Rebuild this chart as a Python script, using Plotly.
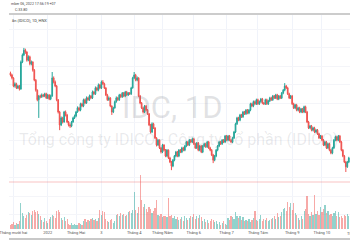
import plotly.graph_objects as go

# ---- data (IDC, 1D, HNX) ----
opens = [63.2,62.7,61.9,59.7,60.3,59.2,59.7,58.9,66.2,68.1,
 69.4,68.9,66.7,67.6,65.7,66.2,64.0,61.3,58.6,56.0,
 57.0,56.8,57.3,57.0,57.6,56.5,57.3,56.2,57.0,61.9,
 60.8,59.7,56.0,52.7,49.2,51.1,50.0,52.7,51.9,50.0,
 49.2,48.9,50.0,51.1,51.6,52.7,53.8,53.2,54.9,54.3,
 56.0,55.1,56.5,56.0,57.0,56.5,58.1,57.6,59.2,58.6,
 60.0,59.2,60.8,60.3,59.2,57.3,56.0,56.5,54.3,52.7,
 53.8,55.5,56.5,56.0,57.3,56.8,57.8,57.0,58.1,57.3,
 57.8,57.6,59.2,61.9,62.7,61.3,61.9,57.0,55.1,53.8,
 52.7,54.3,53.2,52.2,49.2,47.3,49.5,48.4,45.7,43.8,
 45.1,43.0,41.9,43.8,42.4,40.8,42.4,40.3,39.2,38.1,
 39.7,40.8,41.9,40.8,42.4,41.9,43.0,42.4,43.5,44.6,
 43.8,45.1,44.6,45.4,44.1,43.0,44.3,42.4,43.5,41.9,
 43.5,44.1,43.3,44.6,43.0,42.4,41.1,39.7,40.8,42.4,
 43.5,44.6,44.1,45.1,44.6,46.2,45.1,46.2,45.1,44.6,
 45.7,47.3,49.5,51.1,50.5,51.9,51.4,52.7,52.2,53.2,
 52.4,53.2,54.9,54.3,55.5,54.9,56.0,54.9,55.5,56.2,
 55.1,54.9,56.0,54.9,55.7,56.5,56.0,57.0,56.5,57.3,
 56.2,57.0,56.5,57.8,58.6,59.7,59.2,57.6,56.5,57.0,
 54.9,53.8,54.6,53.2,53.8,52.7,53.5,52.7,54.1,52.7,
 50.0,48.4,48.9,47.8,48.4,47.3,47.8,46.8,45.7,46.2,
 45.1,43.8,44.6,43.0,44.1,42.4,41.6,43.0,45.1,46.0,
 45.1,46.2,44.6,42.4,40.8,39.2,37.9,39.2]

closes = [62.7,61.9,59.7,60.3,59.2,59.7,58.9,66.2,68.1,69.4,
 68.9,66.7,67.6,65.7,66.2,64.0,61.3,58.6,56.0,57.0,
 56.8,57.3,57.0,57.6,56.5,57.3,56.2,57.0,61.9,60.8,
 59.7,56.0,52.7,49.2,51.1,50.0,52.7,51.9,50.0,49.2,
 48.9,50.0,51.1,51.6,52.7,53.8,53.2,54.9,54.3,56.0,
 55.1,56.5,56.0,57.0,56.5,58.1,57.6,59.2,58.6,60.0,
 59.2,60.8,60.3,59.2,57.3,56.0,56.5,54.3,52.7,53.8,
 55.5,56.5,56.0,57.3,56.8,57.8,57.0,58.1,57.3,57.8,
 57.6,59.2,61.9,62.7,61.3,61.9,57.0,55.1,53.8,52.7,
 54.3,53.2,52.2,49.2,47.3,49.5,48.4,45.7,43.8,45.1,
 43.0,41.9,43.8,42.4,40.8,42.4,40.3,39.2,38.1,39.7,
 40.8,41.9,40.8,42.4,41.9,43.0,42.4,43.5,44.6,43.8,
 45.1,44.6,45.4,44.1,43.0,44.3,42.4,43.5,41.9,43.5,
 44.1,43.3,44.6,43.0,42.4,41.1,39.7,40.8,42.4,43.5,
 44.6,44.1,45.1,44.6,46.2,45.1,46.2,45.1,44.6,45.7,
 47.3,49.5,51.1,50.5,51.9,51.4,52.7,52.2,53.2,52.4,
 53.2,54.9,54.3,55.5,54.9,56.0,54.9,55.5,56.2,55.1,
 54.9,56.0,54.9,55.7,56.5,56.0,57.0,56.5,57.3,56.2,
 57.0,56.5,57.8,58.6,59.7,59.2,57.6,56.5,57.0,54.9,
 53.8,54.6,53.2,53.8,52.7,53.5,52.7,54.1,52.7,50.0,
 48.4,48.9,47.8,48.4,47.3,47.8,46.8,45.7,46.2,45.1,
 43.8,44.6,43.0,44.1,42.4,41.6,43.0,45.1,46.0,45.1,
 46.2,44.6,42.4,40.8,39.2,37.9,39.2,40.3]

highs = [63.6,63.0,62.1,60.7,60.6,60.0,60.0,66.6,68.5,70.0,
 69.8,69.1,68.0,67.9,66.6,66.4,64.3,61.6,58.8,57.3,
 57.4,57.7,57.6,57.9,57.9,57.6,57.5,57.4,63.5,62.3,
 61.2,60.0,56.2,53.0,51.5,51.4,53.0,53.1,52.2,50.3,
 49.6,50.3,51.4,52.0,53.0,54.2,54.1,55.2,55.2,56.3,
 56.3,56.9,56.8,57.4,57.3,58.5,58.4,59.6,59.5,60.4,
 60.3,61.2,61.3,60.6,59.4,57.6,56.9,56.7,54.5,54.1,
 55.8,56.9,56.8,57.6,57.6,58.1,58.1,58.4,58.4,58.1,
 58.1,59.5,62.2,63.5,63.0,62.3,62.1,57.3,55.4,54.1,
 54.6,54.6,53.5,52.4,49.5,49.9,49.8,48.6,45.9,45.4,
 45.3,43.3,44.1,44.0,42.7,42.7,42.6,40.6,39.5,40.0,
 41.1,42.2,42.2,42.7,42.7,43.3,43.3,43.8,44.9,44.9,
 45.4,45.4,45.8,45.7,44.4,44.6,44.6,43.8,43.8,43.8,
 44.4,44.4,44.9,44.9,43.3,42.7,41.4,41.1,42.7,43.8,
 44.9,44.9,45.4,45.4,46.5,46.5,46.5,46.5,45.4,46.0,
 47.6,49.8,51.4,51.4,52.2,52.2,53.0,53.0,53.5,53.5,
 53.5,55.2,55.2,55.8,55.8,56.3,56.3,55.8,56.5,56.5,
 55.4,56.3,56.3,56.0,56.8,56.8,57.3,57.3,57.6,57.6,
 57.3,57.3,58.1,58.9,60.5,60.0,59.5,57.9,57.3,57.3,
 55.2,54.9,54.9,54.1,54.1,53.8,53.8,54.4,54.4,53.0,
 50.3,49.2,49.2,48.7,48.7,48.1,48.1,47.1,46.5,46.5,
 45.4,44.9,44.9,44.4,44.4,42.7,43.3,45.4,46.3,46.3,
 46.5,46.5,44.9,42.7,41.1,39.5,39.5,40.6]

lows = [62.3,61.5,59.4,59.3,58.9,58.9,58.5,58.7,65.9,67.8,
 68.4,66.3,66.4,65.3,65.3,63.6,61.0,58.2,55.6,51.1,
 56.4,56.5,56.7,56.7,56.2,56.2,55.9,55.9,56.8,60.4,
 59.4,55.6,52.3,47.8,48.9,49.6,49.8,51.5,49.7,48.8,
 48.4,48.6,49.8,50.8,51.3,52.5,52.9,52.9,54.0,54.0,
 54.8,54.9,55.7,55.7,56.2,56.2,57.3,57.3,58.3,58.3,
 58.9,58.9,60.0,58.9,57.0,55.7,55.7,54.0,51.9,52.4,
 53.6,55.2,55.7,55.7,56.5,56.5,56.7,56.7,57.0,57.0,
 57.3,57.3,59.0,61.6,61.0,61.0,56.7,54.8,53.5,52.3,
 52.4,52.9,51.9,48.9,46.9,47.0,48.1,45.4,43.4,43.5,
 42.7,41.5,41.6,42.1,40.5,40.5,40.0,38.9,37.0,37.8,
 39.4,40.5,40.5,40.5,41.6,41.6,42.1,42.1,43.2,43.5,
 43.5,44.3,44.3,43.8,42.7,42.7,42.1,42.1,41.6,41.6,
 43.2,43.0,43.0,42.7,42.1,40.8,38.9,39.4,40.5,42.1,
 43.2,43.8,43.8,44.3,44.3,44.8,44.8,44.8,44.3,44.3,
 45.4,47.0,49.2,50.2,50.2,51.1,51.1,51.9,51.9,52.1,
 52.1,52.9,54.0,54.0,54.6,54.6,54.6,54.6,55.2,54.8,
 54.6,54.6,54.6,54.6,55.4,55.7,55.7,56.2,56.2,55.9,
 55.9,56.2,56.2,57.5,58.3,58.9,57.3,56.2,56.2,54.6,
 53.5,53.5,52.9,52.9,52.4,52.4,52.4,52.4,52.4,49.7,
 48.1,48.1,47.5,47.5,47.0,47.0,46.5,45.4,45.4,44.8,
 43.5,43.5,42.7,42.7,42.1,41.3,41.3,42.7,44.8,44.8,
 44.8,44.3,42.1,40.5,38.9,36.5,37.6,38.9]

volumes_m = [0.5,0.6,0.8,0.5,0.7,0.6,0.9,2.9,1.8,1.5,
 1.2,1.6,1.9,1.8,1.6,2.0,2.1,1.9,2.0,1.7,
 1.5,1.0,0.8,1.2,0.9,0.7,1.1,1.3,1.6,1.4,
 1.2,2.0,2.1,1.9,1.2,1.0,1.3,0.9,1.1,0.6,
 0.5,0.7,0.5,0.6,0.4,0.5,0.7,0.6,0.5,0.9,
 1.1,0.8,1.0,0.9,1.1,1.2,1.0,1.1,0.9,1.2,
 2.1,1.6,2.0,1.9,1.1,0.9,0.8,1.0,1.1,0.7,
 0.9,1.6,1.7,1.5,1.8,1.6,1.7,1.5,1.6,1.9,
 2.0,1.8,2.1,4.1,2.1,1.8,2.4,6.0,3.2,2.4,
 2.8,2.2,1.9,2.5,2.2,1.8,2.0,2.3,3.2,1.6,
 1.5,1.7,1.3,1.5,1.4,1.3,3.4,1.5,1.6,1.2,
 1.4,1.1,1.3,1.0,1.1,1.3,0.9,1.4,1.2,1.0,
 1.2,1.5,1.3,1.7,1.1,1.4,1.2,1.6,1.3,0.9,
 1.1,0.8,1.0,0.7,0.9,1.1,1.0,0.8,0.9,0.6,
 0.8,0.5,0.7,0.9,0.6,0.5,1.2,1.0,1.4,1.3,
 1.1,1.9,1.4,1.2,1.5,1.0,1.3,0.9,1.0,0.9,
 1.1,0.8,1.0,1.2,2.0,1.0,0.9,1.1,1.6,0.9,
 1.1,1.0,1.2,0.9,1.0,1.1,1.2,1.5,1.1,1.8,
 1.3,1.4,1.9,2.2,2.3,2.0,3.0,2.4,2.9,2.1,
 2.9,1.8,1.6,1.2,1.0,1.4,1.1,2.0,2.2,3.7,
 1.7,1.5,1.9,1.6,3.8,1.7,2.0,1.6,2.4,1.9,
 2.2,2.7,1.8,2.0,1.6,1.7,1.4,1.8,2.0,1.5,
 1.9,1.3,1.5,1.2,1.6,1.4,1.7,1.5]

last_price = 33.80
month_start_bar = [2, 25, 44, 61, 83, 102, 123, 145, 166, 189, 209]
month_labels = ["Tháng mười hai", "2022", "Tháng Hai", "3", "Tháng 4", "Tháng Năm",
                "Tháng 6", "Tháng 7", "Tháng Tám", "Tháng 9", "Tháng 10"]
next_month_label = "Tháng 11"

n = min(len(opens), len(closes), len(highs), len(lows), len(volumes_m))
bars = list(range(n))

UP = "#26a69a"
DOWN = "#ef5350"
vol_colors = ["rgba(38,166,154,0.5)" if closes[i] >= opens[i] else "rgba(239,83,80,0.5)"
              for i in range(n)]

fig = go.Figure()
fig.add_trace(go.Bar(
    x=bars, y=volumes_m[:n], yaxis="y2",
    marker=dict(color=vol_colors, line=dict(width=0)),
    width=0.8, showlegend=False, hoverinfo="skip"))
fig.add_trace(go.Candlestick(
    x=bars, open=opens[:n], high=highs[:n], low=lows[:n], close=closes[:n],
    increasing=dict(line=dict(color=UP, width=1), fillcolor=UP),
    decreasing=dict(line=dict(color=DOWN, width=1), fillcolor=DOWN),
    whiskerwidth=0, showlegend=False))

FONT = "Roboto, 'Open Sans', sans-serif"
fig.update_layout(
    width=350, height=250,
    margin=dict(l=0, r=0, t=15, b=21),
    paper_bgcolor="white", plot_bgcolor="white",
    font=dict(family=FONT, color="#555555"),
    bargap=0,
    xaxis=dict(range=[-0.98, 227.8], tickmode="array", tickvals=month_start_bar,
               ticktext=month_labels, tickfont=dict(size=4, color="#555555"),
               ticklabeloverflow="allow",
               showgrid=True, gridcolor="#f0f3fa", gridwidth=1, zeroline=False,
               showline=False, ticks="", rangeslider=dict(visible=False),
               fixedrange=True),
    yaxis=dict(range=[21.11, 78.89], showticklabels=False, showgrid=True,
               gridcolor="#f4f5f9", dtick=5, zeroline=False, fixedrange=True),
    yaxis2=dict(range=[0, 23.8], overlaying="y", visible=False, fixedrange=True),
    shapes=[
        dict(type="line", xref="paper", yref="paper", x0=0, x1=1, y0=1.0047, y1=1.0047,
             line=dict(color="#cccccc", width=2)),
        dict(type="line", xref="paper", yref="paper", x0=0, x1=1, y0=-0.0467, y1=-0.0467,
             line=dict(color="#c8c8c8", width=2)),
        dict(type="line", xref="paper", yref="y", x0=0, x1=1, y0=last_price, y1=last_price,
             line=dict(color="rgba(239,83,80,0.35)", width=1)),
    ],
    annotations=[
        dict(text="mber 06, 2022 17:56:19 +07", xref="paper", yref="paper", x=0, y=1.0537,
             xanchor="left", yanchor="middle", showarrow=False,
             font=dict(size=3.6, color="#444444", family=FONT)),
        dict(text="C:33.80", xref="paper", yref="paper", x=4/350, y=1.0257,
             xanchor="left", yanchor="middle", showarrow=False,
             font=dict(size=3.6, color="#444444", family=FONT)),
        dict(text="ần (IDICO), 1D, HNX", xref="paper", yref="paper", x=0, y=0.974,
             xanchor="left", yanchor="middle", showarrow=False,
             font=dict(size=4, color="#444444", family=FONT)),
        dict(text="IDC, 1D", xref="paper", yref="paper", x=0.479, y=0.57,
             xanchor="center", yanchor="middle", showarrow=False,
             font=dict(size=31, color="rgba(120,123,134,0.22)", family=FONT)),
        dict(text="Tổng công ty IDICO - Công ty cổ phần (IDICO)", xref="paper", yref="paper",
             x=8/350, y=0.416, xanchor="left", yanchor="middle", showarrow=False,
             font=dict(size=16, color="rgba(120,123,134,0.16)", family=FONT)),
        dict(text=next_month_label, xref="paper", yref="paper", x=356/350, y=-0.019,
             xanchor="center", yanchor="middle", showarrow=False,
             font=dict(size=4, color="#555555", family=FONT)),
    ],
)

fig.write_html("out.html")
